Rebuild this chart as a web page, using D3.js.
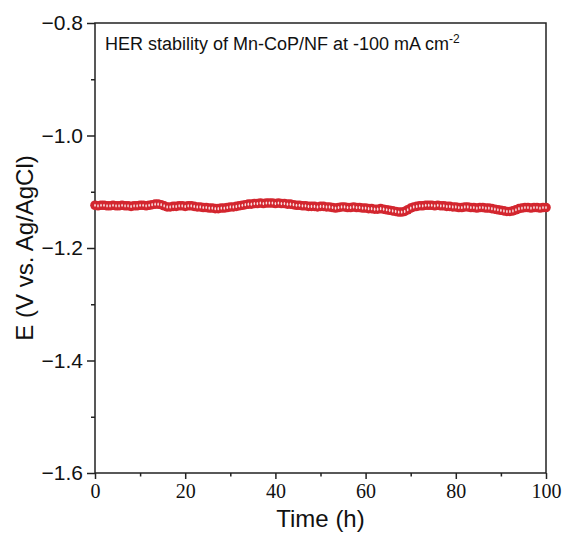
<!DOCTYPE html>
<html><head><meta charset="utf-8">
<script src="https://cdn.jsdelivr.net/npm/d3@7"></script>
<style>body{margin:0;background:#fff}svg{display:block}</style>
</head><body>
<script>
const potential = [
-1.124,-1.125,-1.124,-1.124,-1.125,-1.125,-1.124,-1.125,-1.125,-1.124,-1.125,-1.125,-1.126,-1.125,-1.125,-1.124,
-1.124,-1.125,-1.124,-1.123,-1.122,-1.122,
-1.123,-1.125,-1.127,-1.127,-1.126,-1.126,
-1.125,-1.125,-1.126,-1.125,-1.125,-1.126,
-1.127,-1.127,-1.128,-1.128,-1.129,-1.129,-1.130,-1.130,-1.129,-1.129,-1.128,-1.127,
-1.127,-1.126,-1.125,-1.124,-1.123,-1.122,-1.122,-1.121,-1.121,-1.120,-1.121,-1.120,
-1.120,-1.120,-1.121,-1.120,-1.121,-1.121,
-1.122,-1.122,-1.123,-1.124,-1.124,-1.125,-1.125,-1.126,-1.126,-1.126,-1.127,-1.126,
-1.126,-1.127,-1.127,-1.128,-1.129,-1.128,-1.127,-1.127,-1.128,-1.128,-1.127,-1.128,
-1.128,-1.129,-1.129,-1.130,-1.130,-1.131,-1.131,-1.130,-1.131,-1.132,-1.133,
-1.134,-1.135,-1.136,-1.136,-1.135,-1.132,
-1.129,-1.127,-1.126,-1.125,
-1.125,-1.124,-1.124,-1.124,-1.125,-1.124,-1.125,-1.125,-1.126,
-1.126,-1.127,-1.127,-1.128,-1.128,-1.127,-1.127,-1.128,-1.128,-1.129,-1.128,-1.128,-1.129,-1.129,-1.130,
-1.131,-1.132,-1.133,-1.134,-1.135,-1.135,-1.134,-1.132,-1.130,
-1.129,-1.128,-1.128,-1.129,-1.128,-1.128,-1.129,-1.128,-1.128
];
const timeMax = 100;
const xTicks = [0,20,40,60,80,100];
const xMinor = [10,30,50,70,90];
const yTicks = [-0.8,-1.0,-1.2,-1.4,-1.6];
const yMinor = [-0.9,-1.1,-1.3,-1.5];

const W=563,H=535;
const L=95,R=546,T=23,B=473;
const svg=d3.select("body").append("svg").attr("width",W).attr("height",H);
const x=d3.scaleLinear().domain([0,100]).range([L,R]);
const y=d3.scaleLinear().domain([-1.6,-0.8]).range([B,T]);
const data=potential.map((v,i)=>({t:i*timeMax/(potential.length-1),v}));

const axisColor="#222";
const sans="Liberation Sans, Arial, sans-serif";

// y axis
const gy=svg.append("g").attr("transform",`translate(${L},0)`)
  .call(d3.axisLeft(y).tickValues(yTicks).tickSize(8).tickPadding(4).tickFormat(d=>d3.format(".1f")(d).replace("-","\u2212")));
gy.select(".domain").remove();
gy.selectAll("line").attr("stroke",axisColor).attr("stroke-width",1.5);
gy.selectAll("text").attr("font-family",sans).attr("font-size",21).attr("fill","#111");
const gym=svg.append("g").attr("transform",`translate(${L},0)`)
  .call(d3.axisLeft(y).tickValues(yMinor).tickSize(4).tickFormat(""));
gym.select(".domain").remove();
gym.selectAll("line").attr("stroke",axisColor).attr("stroke-width",1.5);

// x axis
const gx=svg.append("g").attr("transform",`translate(0,${B})`)
  .call(d3.axisBottom(x).tickValues(xTicks).tickSize(6).tickPadding(5));
gx.select(".domain").remove();
gx.selectAll("line").attr("stroke",axisColor).attr("stroke-width",1.5);
gx.selectAll("text").attr("font-family","Liberation Serif, Times New Roman, serif").attr("font-size",20).attr("fill","#111");
const gxm=svg.append("g").attr("transform",`translate(0,${B})`)
  .call(d3.axisBottom(x).tickValues(xMinor).tickSize(3.5).tickFormat(""));
gxm.select(".domain").remove();
gxm.selectAll("line").attr("stroke",axisColor).attr("stroke-width",1.5);

// frame
svg.append("rect").attr("x",L).attr("y",T).attr("width",R-L).attr("height",B-T)
  .attr("fill","none").attr("stroke",axisColor).attr("stroke-width",1.5);

// titles
svg.append("text").attr("x",(L+R)/2).attr("y",527).attr("text-anchor","middle")
  .attr("font-family",sans).attr("font-size",24).attr("fill","#111").text("Time (h)");
svg.append("text").attr("transform",`translate(33,${(T+B)/2}) rotate(-90)`).attr("text-anchor","middle")
  .attr("font-family",sans).attr("font-size",24).attr("fill","#111").text("E (V vs. Ag/AgCl)");

// annotation
const ann=svg.append("text").attr("x",105).attr("y",50)
  .attr("font-family",sans).attr("font-size",18).attr("fill","#111");
ann.append("tspan").text("HER stability of Mn-CoP/NF at -100 mA cm");
ann.append("tspan").attr("dy",-7).attr("font-size",12).text("-2");

// points: red marker bodies then light centres
const pts=svg.append("g");
pts.selectAll("circle").data(data).join("circle")
  .attr("cx",d=>x(d.t)).attr("cy",d=>y(d.v)).attr("r",4.8)
  .attr("fill","#d3262f");
pts.selectAll("ellipse").data(data).join("ellipse")
  .attr("cx",d=>x(d.t)).attr("cy",d=>y(d.v)).attr("rx",0.8).attr("ry",1.6)
  .attr("fill","#fff").attr("fill-opacity",0.85);
</script>
</body></html>
